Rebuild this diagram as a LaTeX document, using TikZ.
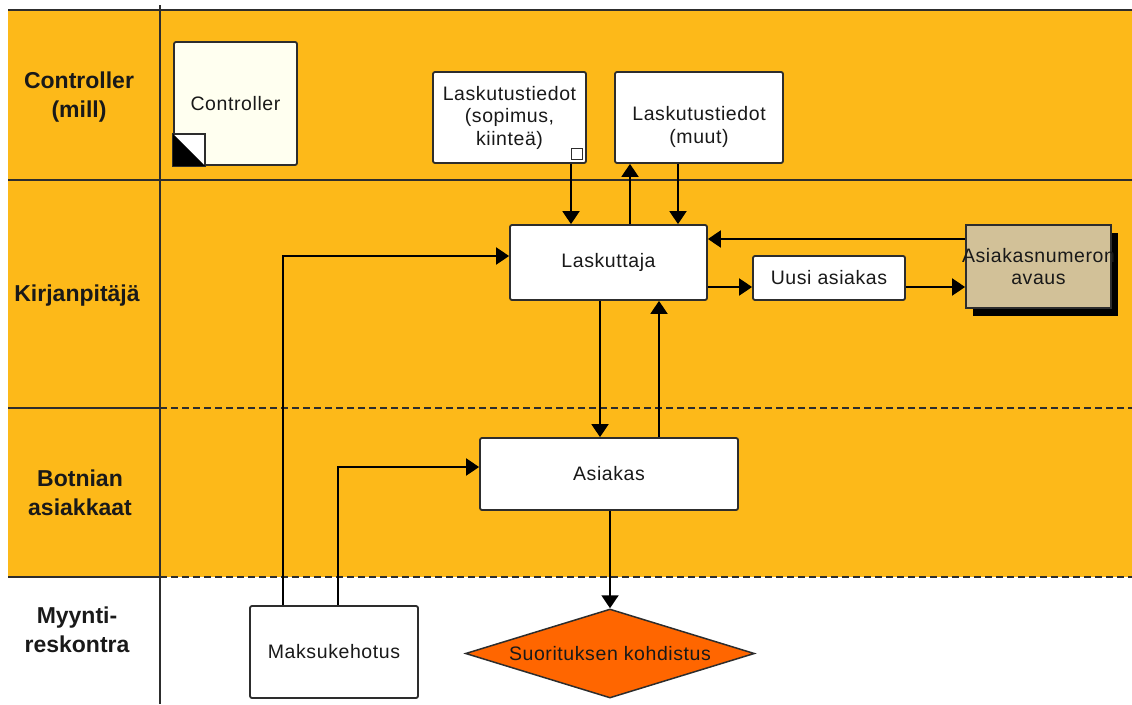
\documentclass[tikz,border=0pt]{standalone}
\usepackage{fontspec}
\setmainfont{Liberation Sans}
\newfontfamily\nodefont[LetterSpace=3]{Liberation Sans}
\usetikzlibrary{arrows.meta,shapes.geometric,shadows}
\definecolor{lane}{RGB}{253,185,25}
\definecolor{boxline}{RGB}{45,45,45}
\definecolor{ivory}{RGB}{255,255,240}
\definecolor{tan}{RGB}{210,193,152}
\definecolor{diafill}{RGB}{255,102,0}
\definecolor{txt}{RGB}{25,25,25}
\tikzset{
  box/.style={draw=boxline, line width=1.8pt, fill=white, rounded corners=2pt,
    align=center, inner sep=0pt, text=txt, font=\nodefont\fontsize{19.5}{22.5}\selectfont},
  lanelabel/.style={align=center, text=txt, font=\fontsize{23}{29}\selectfont\bfseries},
  arr/.style={draw=black, line width=2pt, -{Triangle[width=17pt,length=13pt]}},
  laneline/.style={draw=boxline, line width=1.8pt},
  lanedash/.style={draw=boxline, line width=1.8pt, dash pattern=on 7pt off 4pt},
}
\begin{document}
\begin{tikzpicture}[x=1pt,y=-1pt]
\useasboundingbox (0,0) rectangle (1132,704);
\fill[lane] (8,10) rectangle (1132,577);
% lane separators
\draw[laneline] (8,10) -- (1132,10);
\draw[laneline] (8,180) -- (1132,180);
\draw[laneline] (8,408) -- (160,408);
\draw[lanedash] (160,408) -- (1132,408);
\draw[laneline] (8,577) -- (160,577);
\draw[lanedash] (160,577) -- (1132,577);
\draw[laneline] (160,5) -- (160,704);
% lane labels
\node[lanelabel] (l1) at (79,97) {Controller\\(mill)};
\node[lanelabel] (l2) at (77,296) {Kirjanpitäjä};
\node[lanelabel] (l3) at (80,493) {Botnian\\asiakkaat};
\node[lanelabel] (l4) at (77,630) {Myynti-\\reskontra};
% nodes
\node[box, fill=ivory, minimum width=123pt, minimum height=123pt] (ctrl) at (235.5,103.5) {Controller};
\draw[draw=boxline, line width=1.5pt, fill=white] (ctrl.south west) rectangle ++(32,-32);
\fill[black] (ctrl.south west) -- ++(0,-32) -- ++(32,32) -- cycle;
\node[box, minimum width=153pt, minimum height=91pt] (sop) at (509.5,117.5) {Laskutustiedot\\(sopimus,\\kiinteä)};
\draw[draw=boxline, line width=1pt, fill=white] ([xshift=-15pt,yshift=4pt]sop.south east) rectangle ++(11,-11);
\node[box, minimum width=168pt, minimum height=91pt, text depth=0pt] (muut) at (699,117.5) {\raisebox{-3pt}{\begin{tabular}{@{}c@{}}Laskutustiedot\\(muut)\end{tabular}}};
\node[box, minimum width=197pt, minimum height=75pt] (lask) at (608.5,262.5) {Laskuttaja};
\node[box, minimum width=152pt, minimum height=44pt] (uusi) at (829,278) {Uusi asiakas};
\node[box, fill=tan, rounded corners=0pt, minimum width=145pt, minimum height=83pt,
  drop shadow={shadow xshift=7pt, shadow yshift=-8pt, fill=black, opacity=1}] (avaus) at (1038.5,266.5) {\makebox[120pt]{Asiakasnumeron}\\avaus};
\node[box, minimum width=258pt, minimum height=72pt] (asiakas) at (609,474) {Asiakas};
\node[box, minimum width=168pt, minimum height=92pt] (maksu) at (334,652) {Maksukehotus};
\node[diamond, shape aspect=3.25, draw=boxline, line width=1.5pt, fill=diafill, inner sep=0pt,
  minimum width=289pt, minimum height=89pt, text=txt, font=\nodefont\fontsize{19.5}{22.5}\selectfont] (kohd) at (610,653.5) {Suorituksen kohdistus};
% connectors
\draw[arr] ([xshift=61.5pt]sop.south) -- ([xshift=61.5pt]sop.south |- lask.north);
\draw[arr] ([xshift=21.5pt]lask.north) -- ([xshift=21.5pt]lask.north |- muut.south);
\draw[arr] ([xshift=-21pt]muut.south) -- ([xshift=-21pt]muut.south |- lask.north);
\draw[arr] ([yshift=27.5pt]avaus.west) -- ([yshift=27.5pt]avaus.west -| lask.east);
\draw[arr] ([yshift=-24.5pt]lask.east) -- ([yshift=-24.5pt]lask.east -| uusi.west);
\draw[arr] ([yshift=-9pt]uusi.east) -- ([yshift=-9pt]uusi.east -| avaus.west);
\draw[arr] ([xshift=-8.5pt]lask.south) -- ([xshift=-8.5pt]lask.south |- asiakas.north);
\draw[arr] ([xshift=50pt]asiakas.north) -- ([xshift=50pt]asiakas.north |- lask.south);
\draw[arr] ([xshift=-51pt]maksu.north) |- ([yshift=6.5pt]lask.west);
\draw[arr] ([xshift=4pt]maksu.north) |- ([yshift=7pt]asiakas.west);
\draw[arr] (asiakas.south -| kohd.north) -- (kohd.north);
\end{tikzpicture}
\end{document}
